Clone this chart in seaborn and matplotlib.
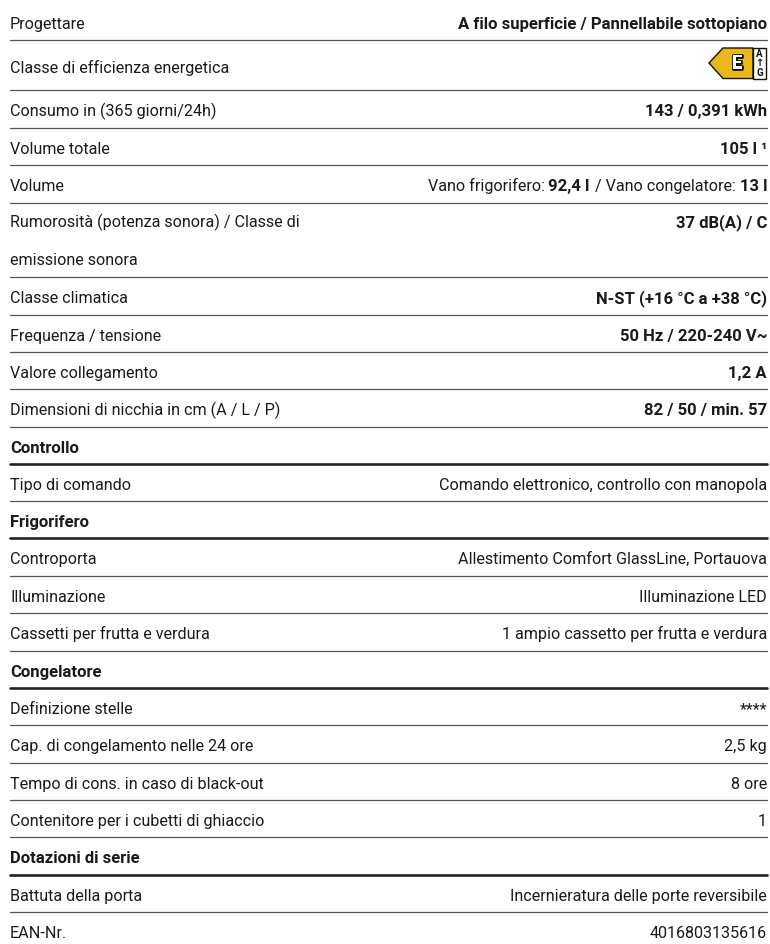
import pandas as pd
import matplotlib.pyplot as plt
import matplotlib.font_manager as fm
import matplotlib.patheffects as pe
import seaborn as sns

# Righe della tabella
etichette = [
    "Progettare", "Classe di efficienza energetica", "Consumo in (365 giorni/24h)",
    "Volume totale", "Volume", "Rumorosità (potenza sonora) / Classe di\nemissione sonora",
    "Classe climatica", "Frequenza / tensione", "Valore collegamento",
    "Dimensioni di nicchia in cm (A / L / P)", "Controllo", "Tipo di comando",
    "Frigorifero", "Controporta", "Illuminazione", "Cassetti per frutta e verdura",
    "Congelatore", "Definizione stelle", "Cap. di congelamento nelle 24 ore",
    "Tempo di cons. in caso di black-out", "Contenitore per i cubetti di ghiaccio",
    "Dotazioni di serie", "Battuta della porta", "EAN-Nr.",
]
# ogni valore: lista di pezzi (testo, grassetto)
valori = [
    [("A filo superficie / Pannellabile sottopiano", True)],
    [],
    [("143 / 0,391 kWh", True)],
    [("105 l ¹", True)],
    [("Vano frigorifero: ", False), ("92,4 l", True), (" / Vano congelatore: ", False), ("13 l", True)],
    [("37 dB(A) / C", True)],
    [("N-ST (+16 °C a +38 °C)", True)],
    [("50 Hz / 220-240 V~", True)],
    [("1,2 A", True)],
    [("82 / 50 / min. 57", True)],
    [],
    [("Comando elettronico, controllo con manopola", False)],
    [],
    [("Allestimento Comfort GlassLine, Portauova", False)],
    [("Illuminazione LED", False)],
    [("1 ampio cassetto per frutta e verdura", False)],
    [],
    [("****", False)],
    [("2,5 kg", False)],
    [("8 ore", False)],
    [("1", False)],
    [],
    [("Incernieratura delle porte reversibile", False)],
    [("4016803135616", False)],
]
sezioni = ["Controllo", "Frigorifero", "Congelatore", "Dotazioni di serie"]
classe_energia = "E"
scala_energia = ["A", "↑", "G"]

# bordo inferiore di ogni riga in pixel (l'ultima riga non ha filetto)
filetti = [40, 90, 128, 165, 203, 277, 315, 352, 389, 427, 464, 501, 538, 576,
           613, 651, 688, 725, 763, 800, 837, 875, 912, None]

sns.set_theme(style="white")
famiglie = {f.name for f in fm.fontManager.ttflist}
plt.rcParams["font.family"] = [n for n in ["Roboto", "DejaVu Sans"] if n in famiglie]

fig, ax = plt.subplots(figsize=(7.7, 9.44), dpi=100)
fig.subplots_adjust(0, 0, 1, 1)

# Filetti: sottili per le righe normali, spessi sotto le sezioni
righe = []
for nome, y in zip(etichette, filetti):
    if y is not None:
        tipo = "spesso" if nome in sezioni else "sottile"
        righe += [{"x": 10, "y": y, "riga": nome, "tipo": tipo}, {"x": 767, "y": y, "riga": nome, "tipo": tipo}]
df = pd.DataFrame(righe)
sns.lineplot(data=df[df.tipo == "sottile"], x="x", y="y", units="riga", estimator=None, color="#555555", lw=0.9, ax=ax)
sns.lineplot(data=df[df.tipo == "spesso"], x="x", y="y", units="riga", estimator=None, color="#222222", lw=1.9, ax=ax)

ax.set_xlim(0, 770)
ax.set_ylim(944, 0)
ax.axis("off")

SIZE = 11.6
SIZE_B = 12.0
INK = "#1a1a1a"
renderer = fig.canvas.get_renderer()
sopra = 3
for i, (nome, pezzi, y) in enumerate(zip(etichette, valori, filetti)):
    fondo = y if y is not None else sopra + 37
    # linea di base del testo: 26 px sotto il filetto precedente
    base = sopra + 26
    if i == 1:
        base = fondo - 17  # riga piu alta con l'etichetta energetica
    if "\n" in nome:
        # riga su due linee
        base -= 2
        a, b = nome.split("\n")
        ax.text(10, base, a, fontsize=SIZE, color=INK, va="baseline")
        ax.text(10, base + 38, b, fontsize=SIZE, color=INK, va="baseline")
    else:
        sez = nome in sezioni
        ax.text(10, base, nome, fontsize=SIZE_B if sez else SIZE, color=INK, va="baseline",
                fontweight="bold" if sez else "normal")
    # valori allineati a destra, dal fondo verso sinistra
    x = 767
    for testo, grassetto in reversed(pezzi):
        t = ax.text(x, base, testo, fontsize=SIZE_B if grassetto else SIZE, color=INK, va="baseline", ha="right",
                    fontweight="bold" if grassetto else "normal")
        larg = t.get_window_extent(renderer).width
        if testo.startswith(" "):
            larg += 1
        x -= larg
    sopra = fondo

# Etichetta energetica
ax.fill([709, 723, 753, 753, 723], [63, 48, 48, 78.5, 78.5], facecolor="#e9b71b", edgecolor="#111111", lw=1)
ax.fill([753, 766, 766, 753], [48, 48, 78.5, 78.5], facecolor="white", edgecolor="#111111", lw=1)
ax.text(737, 63.5, classe_energia, fontsize=13.5, fontweight="bold", ha="center", va="center", color="white",
        path_effects=[pe.withStroke(linewidth=2, foreground="#111111")])
for yy, s in zip([54, 63.5, 73], scala_energia):
    ax.text(759.5, yy, s, fontsize=7, fontweight="bold", ha="center", va="center", color="#111111")

fig.savefig("out.png", dpi=100)
